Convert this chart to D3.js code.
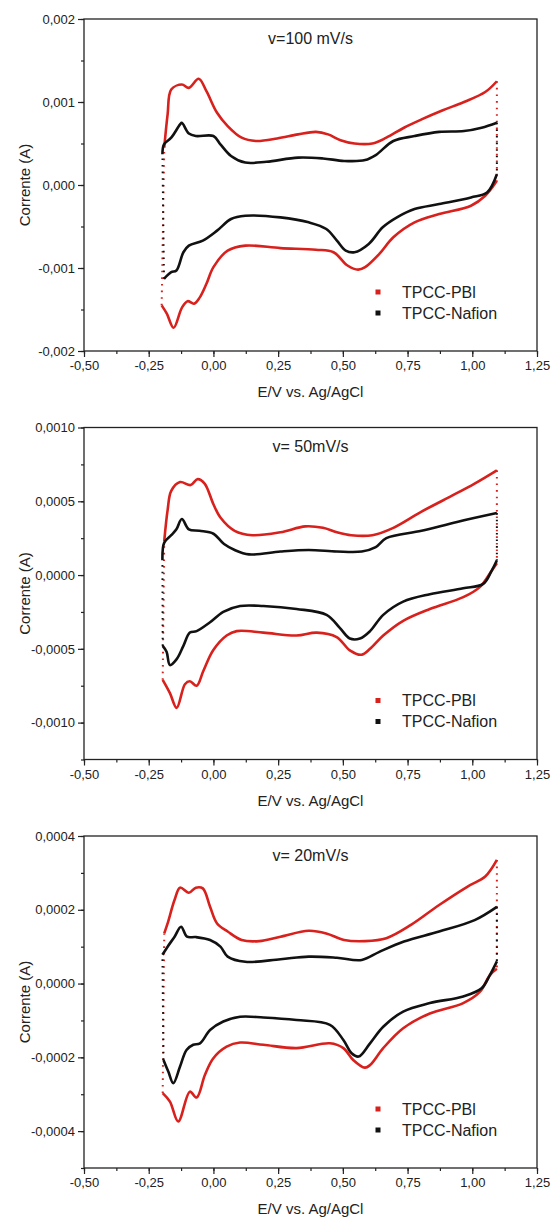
<!DOCTYPE html>
<html>
<head>
<meta charset="utf-8">
<script src="https://cdn.jsdelivr.net/npm/d3@7"></script>
<style>
	body { margin: 0; background: #fff; }
	text { font-family: "Liberation Sans", Arial, sans-serif; fill: #222; }
</style>
</head>
<body>
<div id="chart"></div>
<script>
// Cyclic voltammograms, [E (V), I (A)].
// "Up" = anodic sweep (-0.2 -> 1.1 V), "Down" = cathodic sweep back.

// v = 100 mV/s
var pbi100Up = [[-0.19,0.00045],[-0.177,0.00085],[-0.163,0.00115],[-0.122,0.00121],[-0.095,0.00117],[-0.057,0.00128],[-0.027,0.00113],[0.014,0.00087],[0.055,0.00071],[0.109,0.00057],[0.164,0.00053],[0.246,0.00056],[0.327,0.00061],[0.396,0.00064],[0.443,0.00061],[0.491,0.00054],[0.545,0.0005],[0.614,0.0005],[0.668,0.00057],[0.736,0.00069],[0.804,0.00079],[0.886,0.0009],[0.968,0.001],[1.05,0.00112],[1.095,0.00125]];
var pbi100Down = [[1.095,0.00005],[1.05,-0.00013],[0.995,-0.00025],[0.872,-0.00035],[0.777,-0.00045],[0.695,-0.00063],[0.641,-0.00083],[0.586,-0.00099],[0.559,-0.00102],[0.518,-0.00097],[0.464,-0.00081],[0.396,-0.00078],[0.259,-0.00076],[0.123,-0.00073],[0.055,-0.00079],[0.0,-0.00099],[-0.027,-0.00119],[-0.054,-0.00136],[-0.075,-0.00143],[-0.1,-0.0014],[-0.122,-0.00148],[-0.154,-0.00172],[-0.18,-0.00155],[-0.2,-0.00145]];
var nafion100Up = [[-0.197,0.00037],[-0.191,0.00049],[-0.163,0.00057],[-0.129,0.00073],[-0.122,0.00075],[-0.095,0.00062],[-0.068,0.00059],[0.0,0.00059],[0.027,0.00049],[0.068,0.00035],[0.123,0.00027],[0.205,0.00028],[0.327,0.00033],[0.423,0.00032],[0.505,0.00029],[0.586,0.0003],[0.627,0.00036],[0.695,0.00053],[0.777,0.00059],[0.872,0.00064],[0.968,0.00065],[1.036,0.00069],[1.095,0.00075]];
var nafion100Down = [[1.095,0.00013],[1.057,-0.00009],[0.995,-0.00015],[0.872,-0.00023],[0.777,-0.00029],[0.709,-0.00039],[0.654,-0.00051],[0.6,-0.00071],[0.545,-0.00081],[0.511,-0.00079],[0.477,-0.00067],[0.436,-0.00053],[0.368,-0.00045],[0.259,-0.00039],[0.123,-0.00037],[0.068,-0.00041],[0.014,-0.00055],[-0.041,-0.00067],[-0.095,-0.00073],[-0.116,-0.00081],[-0.143,-0.00103],[-0.163,-0.00105],[-0.191,-0.00113]];

// v = 50 mV/s
var pbi50Up = [[-0.19,0.00023],[-0.177,0.00044],[-0.163,0.00057],[-0.129,0.00063],[-0.088,0.00061],[-0.061,0.00065],[-0.034,0.00062],[0.0,0.00048],[0.027,0.00039],[0.082,0.0003],[0.15,0.00027],[0.259,0.00029],[0.355,0.00033],[0.423,0.00032],[0.477,0.00029],[0.532,0.00027],[0.614,0.00027],[0.695,0.00032],[0.804,0.00043],[0.913,0.00053],[1.009,0.00062],[1.095,0.00071]];
var pbi50Down = [[1.095,0.00008],[1.075,0.00003],[1.03,-0.00008],[0.965,-0.00015],[0.836,-0.00023],[0.733,-0.00031],[0.656,-0.00041],[0.605,-0.0005],[0.572,-0.00054],[0.527,-0.00051],[0.476,-0.00042],[0.399,-0.00039],[0.321,-0.00041],[0.193,-0.00039],[0.09,-0.00038],[0.051,-0.00041],[-0.001,-0.00051],[-0.039,-0.00065],[-0.065,-0.00075],[-0.091,-0.00072],[-0.11,-0.00074],[-0.142,-0.0009],[-0.168,-0.0008],[-0.196,-0.00071]];
var nafion50Up = [[-0.197,0.0001],[-0.19,0.00022],[-0.163,0.00027],[-0.143,0.00031],[-0.122,0.00038],[-0.095,0.00031],[-0.054,0.0003],[0.0,0.00028],[0.041,0.00021],[0.082,0.00017],[0.137,0.00014],[0.259,0.00016],[0.368,0.00017],[0.477,0.00016],[0.573,0.00016],[0.627,0.00019],[0.668,0.00025],[0.804,0.0003],[0.941,0.00036],[1.095,0.00042]];
var nafion50Down = [[1.095,0.0001],[1.075,0.00003],[1.042,-0.00006],[0.965,-0.00009],[0.836,-0.00013],[0.733,-0.00018],[0.656,-0.00027],[0.605,-0.00038],[0.566,-0.00043],[0.527,-0.00043],[0.489,-0.00036],[0.437,-0.00027],[0.321,-0.00023],[0.193,-0.00021],[0.103,-0.00021],[0.038,-0.00025],[-0.013,-0.00032],[-0.065,-0.00038],[-0.091,-0.00039],[-0.116,-0.00048],[-0.142,-0.00057],[-0.168,-0.00061],[-0.181,-0.00052],[-0.196,-0.00048]];

// v = 20 mV/s
var pbi20Up = [[-0.19,0.000136],[-0.177,0.000163],[-0.15,0.000227],[-0.129,0.00026],[-0.095,0.000246],[-0.068,0.00026],[-0.041,0.000258],[-0.013,0.000208],[0.014,0.000163],[0.055,0.000141],[0.109,0.000118],[0.177,0.000115],[0.259,0.000127],[0.368,0.000143],[0.436,0.000136],[0.505,0.000118],[0.586,0.000115],[0.668,0.000123],[0.763,0.000159],[0.872,0.000213],[0.982,0.000263],[1.05,0.00029],[1.095,0.000335]];
var pbi20Down = [[1.095,0.00004],[1.068,0.000023],[1.03,-0.000022],[0.965,-0.000053],[0.836,-0.000081],[0.733,-0.000121],[0.656,-0.000175],[0.605,-0.000221],[0.585,-0.000228],[0.54,-0.000207],[0.502,-0.000175],[0.45,-0.000162],[0.321,-0.000175],[0.193,-0.000166],[0.103,-0.00016],[0.051,-0.000171],[-0.001,-0.000203],[-0.033,-0.000248],[-0.065,-0.000309],[-0.091,-0.000293],[-0.136,-0.000374],[-0.168,-0.00032],[-0.196,-0.000297]];
var nafion20Up = [[-0.197,0.000078],[-0.177,0.0001],[-0.15,0.000127],[-0.125,0.000154],[-0.102,0.000127],[-0.068,0.000126],[-0.013,0.000118],[0.027,0.0001],[0.055,0.000073],[0.123,0.000059],[0.259,0.000066],[0.368,0.000073],[0.477,0.00007],[0.573,0.000064],[0.641,0.000086],[0.736,0.000114],[0.872,0.000141],[1.009,0.000172],[1.095,0.000208]];
var nafion20Down = [[1.095,0.00006],[1.068,0.000023],[1.036,-0.000013],[0.965,-0.000035],[0.836,-0.000053],[0.733,-0.000076],[0.656,-0.000117],[0.605,-0.000162],[0.561,-0.000198],[0.534,-0.000189],[0.502,-0.000153],[0.45,-0.000112],[0.321,-0.000099],[0.193,-0.000092],[0.103,-0.00009],[0.038,-0.000103],[-0.013,-0.000126],[-0.052,-0.000162],[-0.078,-0.000166],[-0.104,-0.00018],[-0.129,-0.000225],[-0.155,-0.00027],[-0.174,-0.000239],[-0.193,-0.000207]];

// Axis settings per panel.
var scanRates = ["v=100 mV/s", "v= 50mV/s", "v= 20mV/s"];
var yDomains = [[-0.002, 0.002], [-0.00125, 0.001], [-0.0005, 0.0004]];
var yMajor = [0.001, 0.0005, 0.0002];
var yDecimals = [3, 4, 4];
var xDomain = [-0.5, 1.25];
var xMajor = 0.25;
var seriesNames = ["TPCC-PBl", "TPCC-Nafion"];
var seriesColors = ["#d8201c", "#111"];

var panels = [
	{pbi: [pbi100Up, pbi100Down], nafion: [nafion100Up, nafion100Down]},
	{pbi: [pbi50Up, pbi50Down], nafion: [nafion50Up, nafion50Down]},
	{pbi: [pbi20Up, pbi20Down], nafion: [nafion20Up, nafion20Down]}
];

var width = 552;
var height = 1219;
var plotLeft = 84, plotWidth = 453, plotHeight = 332;
var panelTops = [19, 427.5, 836];

var locale = d3.formatLocale({decimal: ",", thousands: ".", grouping: [3], currency: ["", ""], minus: "-"});

var svg = d3.select("#chart").append("svg")
		.attr("width", width)
		.attr("height", height);

var x = d3.scaleLinear().domain(xDomain).range([0, plotWidth]);

var line = d3.line()
		.x(function(d) { return x(d[0]); })
		.curve(d3.curveCatmullRom.alpha(0.5));

function ticksBetween(lo, hi, step) {
	var out = [];
	var n = Math.round((hi - lo) / step);
	for (var i = 0; i <= n; i++) out.push(+(lo + i * step).toFixed(8));
	return out;
}

panels.forEach(function(p, k) {
	var g = svg.append("g")
			.attr("transform", "translate(" + plotLeft + "," + panelTops[k] + ")");

	var y = d3.scaleLinear().domain(yDomains[k]).range([plotHeight, 0]);
	line.y(function(d) { return y(d[1]); });

	// Minor ticks first (halfway between majors), then major axes.
	var yMinor = ticksBetween(yDomains[k][0], yDomains[k][1], yMajor[k] / 2);
	var yTicks = yMinor.filter(function(v) {
		return Math.abs(Math.round(v / yMajor[k]) * yMajor[k] - v) < 1e-9;
	});
	var xMinor = ticksBetween(xDomain[0], xDomain[1], xMajor / 2);
	var xTicks = ticksBetween(xDomain[0], xDomain[1], xMajor);

	g.append("g")
			.call(d3.axisLeft(y).tickValues(yMinor).tickSize(3).tickFormat(""))
			.call(styleAxis);
	g.append("g")
			.attr("transform", "translate(0," + plotHeight + ")")
			.call(d3.axisBottom(x).tickValues(xMinor).tickSize(3).tickFormat(""))
			.call(styleAxis);

	g.append("g")
			.call(d3.axisLeft(y).tickValues(yTicks).tickSize(6).tickPadding(3)
				.tickFormat(locale.format("." + yDecimals[k] + "f")))
			.call(styleAxis);
	g.append("g")
			.attr("transform", "translate(0," + plotHeight + ")")
			.call(d3.axisBottom(x).tickValues(xTicks).tickSize(6).tickPadding(4)
				.tickFormat(locale.format(".2f")))
			.call(styleAxis);

	// Frame
	g.append("rect")
			.attr("width", plotWidth)
			.attr("height", plotHeight)
			.attr("fill", "none")
			.attr("stroke", "#222")
			.attr("stroke-width", 1.3);

	// Curves: solid branches plus dotted jumps where the sweep reverses.
	[p.pbi, p.nafion].forEach(function(branches, s) {
		var up = branches[0], down = branches[1];
		g.append("path")
				.attr("d", line([up[up.length - 1], down[0]]) + line([down[down.length - 1], up[0]]))
				.attr("fill", "none")
				.attr("stroke", seriesColors[s])
				.attr("stroke-width", 2)
				.attr("stroke-dasharray", "1.6,5");
		branches.forEach(function(b) {
			g.append("path")
					.attr("d", line(b))
					.attr("fill", "none")
					.attr("stroke", seriesColors[s])
					.attr("stroke-width", 2.6)
					.attr("stroke-linejoin", "round");
		});
	});

	// Scan-rate label
	g.append("text")
			.attr("x", plotWidth / 2)
			.attr("y", 19)
			.attr("dy", "0.35em")
			.attr("text-anchor", "middle")
			.style("font-size", "16px")
			.text(scanRates[k]);

	// Legend
	seriesNames.forEach(function(name, s) {
		var ly = 273 + s * 21;
		g.append("rect")
				.attr("x", 291.5)
				.attr("y", ly - 2.5)
				.attr("width", 5)
				.attr("height", 5)
				.attr("fill", seriesColors[s]);
		g.append("text")
				.attr("x", 318)
				.attr("y", ly)
				.attr("dy", "0.35em")
				.style("font-size", "16px")
				.text(name);
	});

	// Axis titles
	g.append("text")
			.attr("x", plotWidth / 2)
			.attr("y", plotHeight + 41)
			.attr("dy", "0.35em")
			.attr("text-anchor", "middle")
			.style("font-size", "15px")
			.text("E/V vs. Ag/AgCl");
	g.append("text")
			.attr("transform", "translate(" + (25 - plotLeft) + "," + (plotHeight / 2) + ") rotate(-90)")
			.attr("dy", "0.35em")
			.attr("text-anchor", "middle")
			.style("font-size", "15px")
			.text("Corrente (A)");
});

function styleAxis(sel) {
	sel.select(".domain").remove();
	sel.selectAll(".tick line").attr("stroke", "#222").attr("stroke-width", 1.2);
	sel.selectAll(".tick text")
			.style("font-family", "'Liberation Sans', Arial, sans-serif")
			.style("font-size", "13px")
			.attr("fill", "#333");
}
</script>
</body>
</html>
